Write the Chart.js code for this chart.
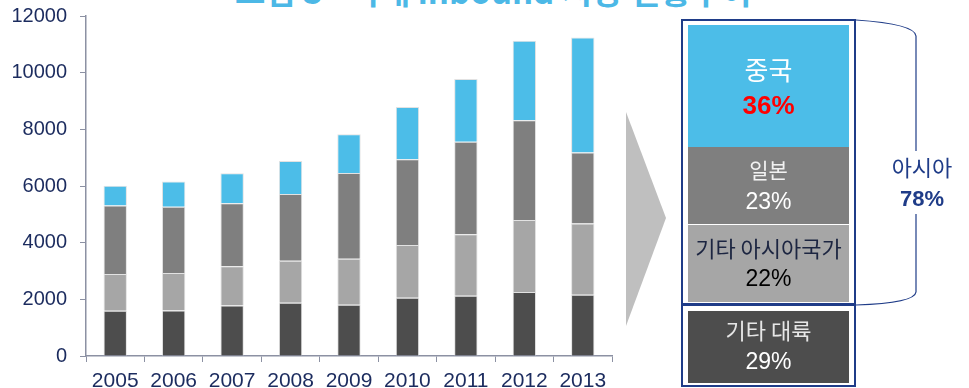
<!DOCTYPE html>
<html>
<head>
<meta charset="utf-8">
<script src="https://cdn.jsdelivr.net/npm/chart.js@4.4.1/dist/chart.umd.min.js"></script>
<style>
  html, body { margin: 0; padding: 0; background: #fff; }
  body { width: 969px; height: 388px; position: relative; overflow: hidden; font-family: "Liberation Sans", Arial, sans-serif; }
  #title { position: absolute; left: 0; width: 969px; top: -28px; text-align: center; font-family: "Noto Sans CJK KR", sans-serif; font-size: 33px; font-weight: bold; color: #4cb8e6; white-space: nowrap; line-height: 36px; }
  #chartBox { position: absolute; left: 0; top: 0; width: 625px; height: 388px; }
  .ko { font-family: "Noto Sans CJK KR", sans-serif; }
  .lbl { position: absolute; left: 681px; width: 175px; text-align: center; white-space: nowrap; line-height: 1; }
  .fill { position: absolute; left: 688px; width: 161px; }
</style>
</head>
<body>
<div id="title"><span style="margin-left:-2px">&lt;그림 3&gt; 국내 inbound 시장 현황추이</span></div>
<div id="chartBox"><canvas id="mainChart"></canvas></div>

<svg width="969" height="388" style="position:absolute;left:0;top:0">
  <polygon points="626,112 666,218 626,326" fill="#bfbfbf"/>
  <path d="M856,20 Q915,24 916,36 L916,151 M916,214 L916,292 Q915,303 856,305" fill="none" stroke="#1f3c88" stroke-width="1.2"/>
</svg>

<div id="panel"></div>

<script>
// ---------------- data ----------------
const years = ["2005", "2006", "2007", "2008", "2009", "2010", "2011", "2012", "2013"];
const otherContinent = [1600, 1610, 1780, 1880, 1810, 2060, 2130, 2260, 2160];
const otherAsia      = [1290, 1320, 1390, 1480, 1620, 1860, 2170, 2540, 2520];
const japan          = [2420, 2340, 2220, 2360, 3030, 3020, 3260, 3520, 2500];
const china          = [ 700,  890, 1060, 1160, 1370, 1850, 2220, 2810, 4060];
const yTicks = [0, 2000, 4000, 6000, 8000, 10000, 12000];

// share of 2013 (right side box)
const shareNames = ["중국", "일본", "기타 아시아국가", "기타 대륙"];
const shareValues = [36, 23, 22, 29];
const asiaName = "아시아";
const asiaShare = 78;

const axisColor = "#8c91a3";
const labelColor = "#1b2b5e";
const colors = {
    otherContinent: "#4d4d4d",
    otherAsia: "#a6a6a6",
    japan: "#7f7f7f",
    china: "#4cbde8"
};

function ds(label, data, color) {
    return {
        label: label,
        data: data,
        backgroundColor: color,
        borderColor: "#e2e2e2",
        borderWidth: 1,
        categoryPercentage: 1.0,
        barPercentage: 0.4
    };
}

new Chart(document.getElementById("mainChart").getContext("2d"), {
    type: "bar",
    data: {
        labels: years,
        datasets: [
            ds(shareNames[3], otherContinent, colors.otherContinent),
            ds(shareNames[2], otherAsia, colors.otherAsia),
            ds(shareNames[1], japan, colors.japan),
            ds(shareNames[0], china, colors.china)
        ]
    },
    options: {
        responsive: true,
        maintainAspectRatio: false,
        animation: false,
        layout: { padding: { top: 16, right: 13, left: 0, bottom: 0 } },
        plugins: { legend: { display: false }, tooltip: { enabled: false } },
        scales: {
            x: {
                stacked: true,
                grid: { display: true, drawOnChartArea: false, tickLength: 6, color: axisColor, offset: true },
                border: { display: true, color: axisColor, width: 1.5 },
                ticks: { color: labelColor, font: { family: "Liberation Sans", size: 21 }, padding: 7, maxRotation: 0 },
                afterFit: function(scale) { scale.height = 32; }
            },
            y: {
                stacked: true,
                min: 0,
                max: 12000,
                afterBuildTicks: function(scale) { scale.ticks = yTicks.map(v => ({ value: v })); },
                grid: { display: true, drawOnChartArea: false, tickLength: 6, color: axisColor },
                border: { display: true, color: axisColor, width: 1.5 },
                ticks: {
                    color: labelColor,
                    font: { family: "Liberation Sans", size: 20 },
                    padding: 13,
                    callback: function(value) { return String(value); }
                },
                afterFit: function(scale) {
                    scale.width = 86;
                    scale.paddingTop = 0;
                    scale.paddingBottom = 0;
                }
            }
        }
    }
});

// ---------------- right side share box ----------------
const panel = document.getElementById("panel");
panel.innerHTML =
    '<div style="position:absolute;left:681px;top:19px;width:171px;height:282px;border:2px solid #1f3c88"></div>' +
    '<div style="position:absolute;left:681px;top:304px;width:171px;height:79px;border:2px solid #1f3c88"></div>' +
    '<div class="fill" style="top:25px;height:122px;background:' + colors.china + '"></div>' +
    '<div class="fill" style="top:147px;height:77px;background:' + colors.japan + '"></div>' +
    '<div class="fill" style="top:225px;height:77px;background:' + colors.otherAsia + '"></div>' +
    '<div class="fill" style="top:311px;height:72px;background:' + colors.otherContinent + '"></div>' +
    '<div class="lbl ko" style="top:56px;font-size:26px;color:#fff">' + shareNames[0] + '</div>' +
    '<div class="lbl" style="top:92px;font-size:26px;font-weight:bold;color:#ff0000">' + shareValues[0] + '%</div>' +
    '<div class="lbl ko" style="top:159px;font-size:21px;color:#f2f2f2">' + shareNames[1] + '</div>' +
    '<div class="lbl" style="top:190px;font-size:23px;color:#fff">' + shareValues[1] + '%</div>' +
    '<div class="lbl ko" style="top:236px;font-size:22px;color:#1c2541">' + shareNames[2] + '</div>' +
    '<div class="lbl" style="top:267px;font-size:23px;color:#000">' + shareValues[2] + '%</div>' +
    '<div class="lbl ko" style="top:318px;font-size:22px;color:#e6e6e6">' + shareNames[3] + '</div>' +
    '<div class="lbl" style="top:350px;font-size:23px;color:#fff">' + shareValues[3] + '%</div>' +
    '<div class="ko" style="position:absolute;left:872px;width:100px;text-align:center;top:155px;font-size:22px;line-height:1;color:#1f3c88">' + asiaName + '</div>' +
    '<div style="position:absolute;left:872px;width:100px;text-align:center;top:188px;font-size:22px;line-height:1;color:#1f3c88;font-weight:bold">' + asiaShare + '%</div>';
</script>
</body>
</html>
